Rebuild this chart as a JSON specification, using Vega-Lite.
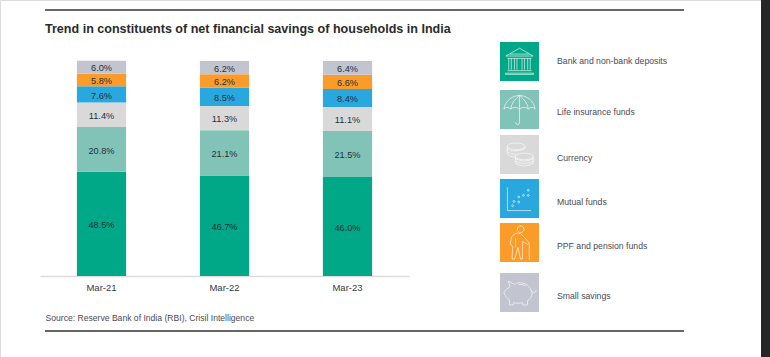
{"$schema":"https://vega.github.io/schema/vega-lite/v6.json","width":770,"height":357,"padding":0,"autosize":{"type":"none"},"background":"white","title":{"text":"Trend in constituents of net financial savings of households in India","anchor":"start","frame":"group","dx":45,"offset":-42,"baseline":"middle","font":"Liberation Sans","fontSize":12.55,"fontWeight":"bold","color":"#2b2b2b"},"datasets":{"shares":[{"month":"Mar-21","category":"Bank and non-bank deposits","rank":1,"value":48.5,"label":"48.5%"},{"month":"Mar-21","category":"Life insurance funds","rank":2,"value":20.8,"label":"20.8%"},{"month":"Mar-21","category":"Currency","rank":3,"value":11.4,"label":"11.4%"},{"month":"Mar-21","category":"Mutual funds","rank":4,"value":7.6,"label":"7.6%"},{"month":"Mar-21","category":"PPF and pension funds","rank":5,"value":5.8,"label":"5.8%"},{"month":"Mar-21","category":"Small savings","rank":6,"value":6.0,"label":"6.0%"},{"month":"Mar-22","category":"Bank and non-bank deposits","rank":1,"value":46.7,"label":"46.7%"},{"month":"Mar-22","category":"Life insurance funds","rank":2,"value":21.1,"label":"21.1%"},{"month":"Mar-22","category":"Currency","rank":3,"value":11.3,"label":"11.3%"},{"month":"Mar-22","category":"Mutual funds","rank":4,"value":8.5,"label":"8.5%"},{"month":"Mar-22","category":"PPF and pension funds","rank":5,"value":6.2,"label":"6.2%"},{"month":"Mar-22","category":"Small savings","rank":6,"value":6.2,"label":"6.2%"},{"month":"Mar-23","category":"Bank and non-bank deposits","rank":1,"value":46.0,"label":"46.0%"},{"month":"Mar-23","category":"Life insurance funds","rank":2,"value":21.5,"label":"21.5%"},{"month":"Mar-23","category":"Currency","rank":3,"value":11.1,"label":"11.1%"},{"month":"Mar-23","category":"Mutual funds","rank":4,"value":8.4,"label":"8.4%"},{"month":"Mar-23","category":"PPF and pension funds","rank":5,"value":6.6,"label":"6.6%"},{"month":"Mar-23","category":"Small savings","rank":6,"value":6.4,"label":"6.4%"}],"legend":[{"category":"Bank and non-bank deposits","rank":1,"col":0},{"category":"Life insurance funds","rank":2,"col":0},{"category":"Currency","rank":3,"col":0},{"category":"Mutual funds","rank":4,"col":0},{"category":"PPF and pension funds","rank":5,"col":0},{"category":"Small savings","rank":6,"col":0}],"frame":[{"a":0,"b":1,"level":0},{"a":0,"b":1,"level":1}]},"resolve":{"scale":{"x":"independent","y":"independent","color":"independent","shape":"independent"},"axis":{"x":"independent","y":"independent"}},"layer":[{"data":{"name":"shares"},"mark":{"type":"bar"},"encoding":{"x":{"field":"month","type":"nominal","scale":{"range":[40,409],"paddingInner":0.6,"paddingOuter":0.3},"axis":{"title":"Source: Reserve Bank of India (RBI), Crisil Intelligence","titleFont":"Liberation Sans","titleFontSize":8.6,"titleFontWeight":"normal","titleColor":"#4a4a55","titleAnchor":"start","titleAlign":"left","titleBaseline":"middle","titleX":45,"titleY":41,"offset":-81,"labelAngle":0,"labelFont":"Liberation Sans","labelFontSize":9.5,"labelColor":"#333a45","labelPadding":6,"ticks":false,"domainColor":"#dcdcdc","domainWidth":1.5,"grid":false}},"y":{"field":"value","type":"quantitative","stack":"zero","scale":{"domain":[0,100],"range":[276,61],"nice":false},"axis":null},"order":{"field":"rank"},"color":{"field":"category","type":"nominal","legend":null,"scale":{"domain":["Bank and non-bank deposits","Life insurance funds","Currency","Mutual funds","PPF and pension funds","Small savings"],"range":["#00A887","#82C3B8","#D9D9D9","#29A8E0","#FB9C2A","#C2C4D0"]}}}},{"data":{"name":"shares"},"mark":{"type":"text","font":"Liberation Sans","fontSize":9.2,"color":"#1f3038","baseline":"middle","align":"center","dy":1.2},"encoding":{"x":{"field":"month","type":"nominal","bandPosition":0.5,"scale":{"range":[40,409],"paddingInner":0.6,"paddingOuter":0.3},"axis":null},"y":{"field":"value","type":"quantitative","stack":"zero","bandPosition":0.5,"scale":{"domain":[0,100],"range":[276,61],"nice":false},"axis":null},"order":{"field":"rank"},"text":{"field":"label"}}},{"data":{"name":"legend"},"mark":{"type":"square","size":1521,"opacity":1},"encoding":{"x":{"field":"col","type":"quantitative","scale":{"domain":[0,1],"range":[519.5,557]},"axis":null},"y":{"field":"rank","type":"quantitative","scale":{"domain":[1,2,3,4,5,6],"range":[61.5,109.5,154.5,198.5,242.5,292.5]},"axis":null},"color":{"field":"category","type":"nominal","legend":null,"scale":{"domain":["Bank and non-bank deposits","Life insurance funds","Currency","Mutual funds","PPF and pension funds","Small savings"],"range":["#00A887","#82C3B8","#D9D9D9","#29A8E0","#FB9C2A","#C2C4D0"]}}}},{"data":{"name":"legend"},"mark":{"type":"point","filled":false,"size":1521,"stroke":"white","strokeWidth":0.7,"opacity":0.9},"encoding":{"x":{"field":"col","type":"quantitative","scale":{"domain":[0,1],"range":[519.5,557]},"axis":null},"y":{"field":"rank","type":"quantitative","scale":{"domain":[1,2,3,4,5,6],"range":[61.5,109.5,154.5,198.5,242.5,292.5]},"axis":null},"shape":{"field":"category","type":"nominal","legend":null,"scale":{"domain":["Bank and non-bank deposits","Life insurance funds","Currency","Mutual funds","PPF and pension funds","Small savings"],"range":["M-0.7 -0.28L0 -0.68L0.7 -0.28Z M-0.5 -0.38H0.5 M-0.62 -0.16H0.62 M-0.55 -0.16V0.42 M-0.42 -0.16V0.42 M-0.26 -0.16V0.42 M-0.13 -0.16V0.42 M0.13 -0.16V0.42 M0.26 -0.16V0.42 M0.42 -0.16V0.42 M0.55 -0.16V0.42 M-0.62 0.47H0.62 M-0.72 0.6H0.72V0.66H-0.72Z","M-0.8 -0.02C-0.75 -0.45 -0.35 -0.72 0 -0.72C0.35 -0.72 0.75 -0.45 0.8 -0.02Q0.65 -0.2 0.45 -0.02Q0.25 -0.2 0 -0.02Q-0.25 -0.2 -0.45 -0.02Q-0.65 -0.2 -0.8 -0.02Z M0 -0.72V0.65Q0 0.78 -0.1 0.78Q-0.2 0.78 -0.2 0.65 M0 -0.72Q-0.42 -0.4 -0.45 -0.02 M0 -0.72Q0.42 -0.4 0.45 -0.02","M-0.63 -0.42A0.45 0.17 0 1 0 0.27 -0.42A0.45 0.17 0 1 0 -0.63 -0.42Z M-0.63 -0.42V-0.02Q-0.5 0.12 -0.2 0.14 M-0.63 -0.28Q-0.3 -0.08 0.27 -0.28V-0.42 M-0.63 -0.14Q-0.45 -0.02 -0.2 0 M-0.2 0.1A0.45 0.17 0 1 0 0.7 0.1A0.45 0.17 0 1 0 -0.2 0.1Z M-0.2 0.1V0.45Q0.25 0.72 0.7 0.45V0.1 M-0.2 0.22Q0.25 0.45 0.7 0.22 M-0.2 0.34Q0.25 0.58 0.7 0.34","M-0.62 -0.57V0.62H0.59 M-0.4 0.37A0.05 0.05 0 1 0 -0.3 0.37A0.05 0.05 0 1 0 -0.4 0.37Z M-0.33 0.15A0.05 0.05 0 1 0 -0.23 0.15A0.05 0.05 0 1 0 -0.33 0.15Z M-0.09 -0.08A0.05 0.05 0 1 0 0.01 -0.08A0.05 0.05 0 1 0 -0.09 -0.08Z M-0.09 0.18A0.05 0.05 0 1 0 0.01 0.18A0.05 0.05 0 1 0 -0.09 0.18Z M0.15 -0.16A0.05 0.05 0 1 0 0.25 -0.16A0.05 0.05 0 1 0 0.15 -0.16Z M0.4 -0.16A0.05 0.05 0 1 0 0.5 -0.16A0.05 0.05 0 1 0 0.4 -0.16Z M0.4 -0.42A0.05 0.05 0 1 0 0.5 -0.42A0.05 0.05 0 1 0 0.4 -0.42Z","M-0.11 -0.68A0.17 0.17 0 1 0 0.23 -0.68A0.17 0.17 0 1 0 -0.11 -0.68Z M-0.1 -0.48Q-0.4 -0.45 -0.45 -0.1L-0.47 0.1L-0.35 0.2L-0.38 0.85L-0.25 0.85L-0.08 0.25L0.05 0.85L0.15 0.85L0.15 -0.05L0.42 0.1L0.5 0.02L0.12 -0.4Q0.05 -0.5 -0.1 -0.48Z M0.5 0.05V0.9 M-0.2 -0.2V0.25","M-0.8 0C-0.72 -0.12 -0.62 -0.22 -0.48 -0.3L-0.57 -0.58L-0.25 -0.42C0 -0.58 0.42 -0.52 0.6 -0.12C0.7 0.05 0.62 0.3 0.42 0.42L0.4 0.64H0.18L0.15 0.52C0 0.56 -0.15 0.56 -0.3 0.52L-0.33 0.64H-0.52L-0.52 0.38C-0.65 0.3 -0.72 0.2 -0.8 0Z M-0.05 -0.4Q0.15 -0.45 0.3 -0.35 M0.62 -0.1A0.1 0.1 0 1 0 0.85 -0.13"]}}}},{"data":{"name":"legend"},"mark":{"type":"text","font":"Liberation Sans","fontSize":8.7,"color":"#4a4a55","align":"left","baseline":"middle"},"encoding":{"x":{"datum":1,"type":"quantitative","scale":{"domain":[0,1],"range":[519.5,557]},"axis":null},"y":{"field":"rank","type":"quantitative","scale":{"domain":[1,2,3,4,5,6],"range":[61,112,158,202,246,296]},"axis":null},"text":{"field":"category"}}},{"data":{"name":"frame"},"mark":{"type":"rule","color":"#333333","strokeWidth":1.3},"encoding":{"x":{"field":"a","type":"quantitative","scale":{"domain":[0,1],"range":[45,684]},"axis":null},"x2":{"field":"b"},"y":{"field":"level","type":"quantitative","scale":{"domain":[0,1],"range":[10,331]},"axis":null}}},{"data":{"values":[{"a":0,"b":1,"c":0,"d":1}]},"mark":{"type":"rect","color":"#262626"},"encoding":{"x":{"field":"a","type":"quantitative","scale":{"domain":[0,1],"range":[761,770]},"axis":null},"x2":{"field":"b"},"y":{"field":"c","type":"quantitative","scale":{"domain":[0,1],"range":[0,357]},"axis":null},"y2":{"field":"d"}}}]}
